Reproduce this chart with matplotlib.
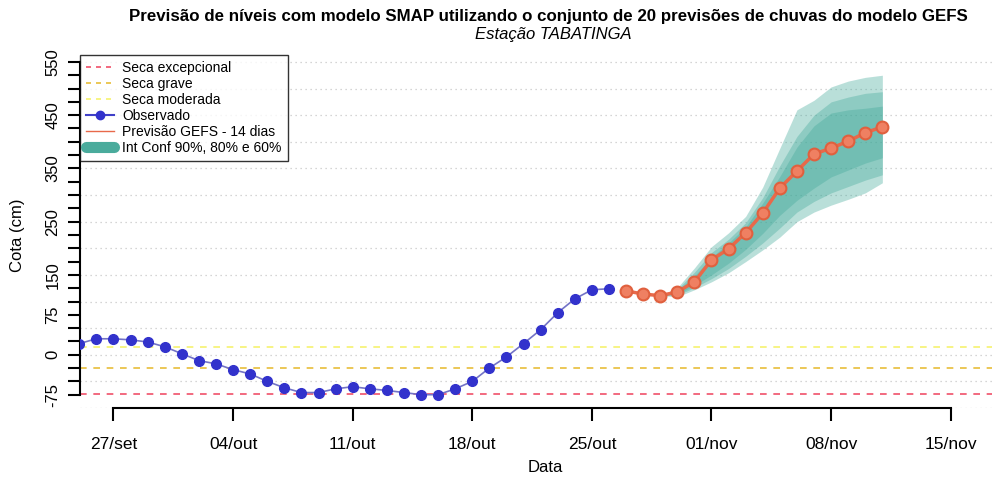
import numpy as np
import pandas as pd
import matplotlib
matplotlib.use('Agg')
import matplotlib.pyplot as plt
import matplotlib.dates as mdates
from matplotlib.lines import Line2D

plt.rcParams['font.family'] = ['Liberation Sans', 'DejaVu Sans']

# Dados observados (cota em cm), diarios a partir de 25/set
inicio_obs = '2023-09-25'
observado = [21, 30, 30, 28, 24, 15, 2, -11, -17, -28, -36, -50, -62, -71, -71, -64,
             -60, -64, -67, -71, -75, -75, -64, -50, -25, -4, 21, 47, 79, 105, 122, 124]

# Previsao GEFS (mediana) a partir de 27/out
inicio_prev = '2023-10-27'
previsao = [120, 114, 111, 118, 137, 178, 199, 229, 266, 313, 345, 377, 388, 401, 417, 428]

# Intervalos de confianca
ic90_inf = [120, 114, 111, 109, 122, 137, 154, 175, 197, 221, 250, 268, 281, 292, 304, 323]
ic90_sup = [120, 114, 111, 126, 163, 203, 229, 260, 315, 388, 460, 478, 503, 514, 521, 525]
ic80_inf = [120, 114, 111, 112, 126, 143, 162, 185, 210, 238, 268, 288, 304, 316, 328, 338]
ic80_sup = [120, 114, 111, 123, 155, 192, 217, 248, 295, 355, 410, 450, 475, 484, 491, 494]
ic60_inf = [120, 114, 111, 114, 130, 150, 172, 198, 228, 262, 290, 313, 334, 347, 360, 370]
ic60_sup = [120, 114, 111, 121, 148, 183, 210, 240, 285, 335, 390, 430, 454, 460, 463, 467]

# Niveis de seca
seca_excepcional = -73
seca_grave = -25
seca_moderada = 15

# Eixos
datas_ticks = ['2023-09-27', '2023-10-04', '2023-10-11', '2023-10-18',
               '2023-10-25', '2023-11-01', '2023-11-08', '2023-11-15']
rotulos_x = ['27/set', '04/out', '11/out', '18/out', '25/out', '01/nov', '08/nov', '15/nov']
ticks_y = list(range(-75, 551, 25))
rotulos_y = {-75: '-75', 0: '0', 75: '75', 150: '150', 250: '250', 350: '350', 450: '450', 550: '550'}

d_obs = pd.date_range(inicio_obs, periods=len(observado), freq='D')
d_prev = pd.date_range(inicio_prev, periods=len(previsao), freq='D')

fig = plt.figure(figsize=(9.92, 4.79), dpi=100)
ax = fig.add_axes([80 / 992, 1 - 408 / 479, 1 - 80 / 992, (408 - 55) / 479])

# grade horizontal pontilhada
for v in range(-100, 551, 50):
    ax.axhline(v, color='#c8c8c8', lw=0.9, ls=(0, (1, 3)), zorder=0)

ax.axhline(seca_excepcional, color='#f0506a', lw=1.2, ls=(0, (4, 4)), zorder=1)
ax.axhline(seca_grave, color='#e8bd3a', lw=1.2, ls=(0, (4, 4)), zorder=1)
ax.axhline(seca_moderada, color='#f6f270', lw=1.2, ls=(0, (4, 4)), zorder=1)

cor_ic = '#3fa898'
ax.fill_between(d_prev, ic90_inf, ic90_sup, color=cor_ic, alpha=0.36, lw=0, zorder=2)
ax.fill_between(d_prev, ic80_inf, ic80_sup, color=cor_ic, alpha=0.35, lw=0, zorder=2)
ax.fill_between(d_prev, ic60_inf, ic60_sup, color=cor_ic, alpha=0.35, lw=0, zorder=2)

ax.plot(d_obs, observado, color='#7373c6', lw=1.2, marker='o', ms=7,
        mfc='#3232cc', mec='#3232cc', zorder=4)
ax.plot(d_prev, previsao, color='#e8694a', lw=2.5, marker='o', ms=8.5,
        mfc='#ef8062', mec='#e0603e', mew=1.5, zorder=5)

ax.set_xlim(pd.Timestamp('2023-09-25 01:00'), pd.Timestamp('2023-11-17 10:00'))
ax.set_ylim(-100, 563)

ax.set_xticks(pd.to_datetime(datas_ticks))
ax.set_xticklabels(rotulos_x, fontsize=12.5)
ax.set_yticks(ticks_y)
ax.set_yticklabels([rotulos_y.get(t, '') for t in ticks_y], fontsize=12, rotation=90, va='center')

for s in ['top', 'right']:
    ax.spines[s].set_visible(False)
ax.spines['left'].set_bounds(-75, 550)
ax.spines['bottom'].set_bounds(mdates.date2num(pd.Timestamp(datas_ticks[0])),
                               mdates.date2num(pd.Timestamp(datas_ticks[-1])))
ax.spines['left'].set_linewidth(1.5)
ax.spines['bottom'].set_linewidth(1.5)
ax.tick_params(axis='both', length=9, width=1.5)
ax.tick_params(axis='x', pad=12)
ax.tick_params(axis='y', pad=5)

fig.text(548 / 992, 1 - 17 / 479, 'Previsão de níveis com modelo SMAP utilizando o conjunto de 20 previsões de chuvas do modelo GEFS',
         ha='center', va='center', fontsize=12.2, fontweight='bold')
fig.text(553 / 992, 1 - 35 / 479, 'Estação TABATINGA', ha='center', va='center',
         fontsize=12, style='italic')
fig.text(545 / 992, 1 - 467 / 479, 'Data', ha='center', va='center', fontsize=12)
fig.text(18 / 992, 1 - 235 / 479, 'Cota (cm)', ha='center', va='center', fontsize=12, rotation=90)

handles = [
    Line2D([], [], color='#f0506a', lw=1.2, ls=(0, (3, 3))),
    Line2D([], [], color='#e8bd3a', lw=1.2, ls=(0, (3, 3))),
    Line2D([], [], color='#f6f270', lw=1.2, ls=(0, (3, 3))),
    Line2D([], [], color='#4040c8', lw=1.5, marker='o', ms=6, mfc='#3232cc', mec='#3232cc'),
    Line2D([], [], color='#e8694a', lw=1),
    Line2D([], [], color='#4aab9c', lw=8, solid_capstyle='round'),
]
labels = ['Seca excepcional', 'Seca grave', 'Seca moderada', 'Observado',
          'Previsão GEFS - 14 dias', 'Int Conf 90%, 80% e 60%']
leg = ax.legend(handles, labels, loc='upper left', bbox_to_anchor=(0, 1), borderaxespad=0,
                fontsize=10, frameon=True, fancybox=False, edgecolor='black',
                handlelength=2.0, labelspacing=0.14, borderpad=0.45, handletextpad=0.6)
leg.get_frame().set_linewidth(1.0)
leg.set_zorder(10)

fig.savefig('out.png', dpi=100)
